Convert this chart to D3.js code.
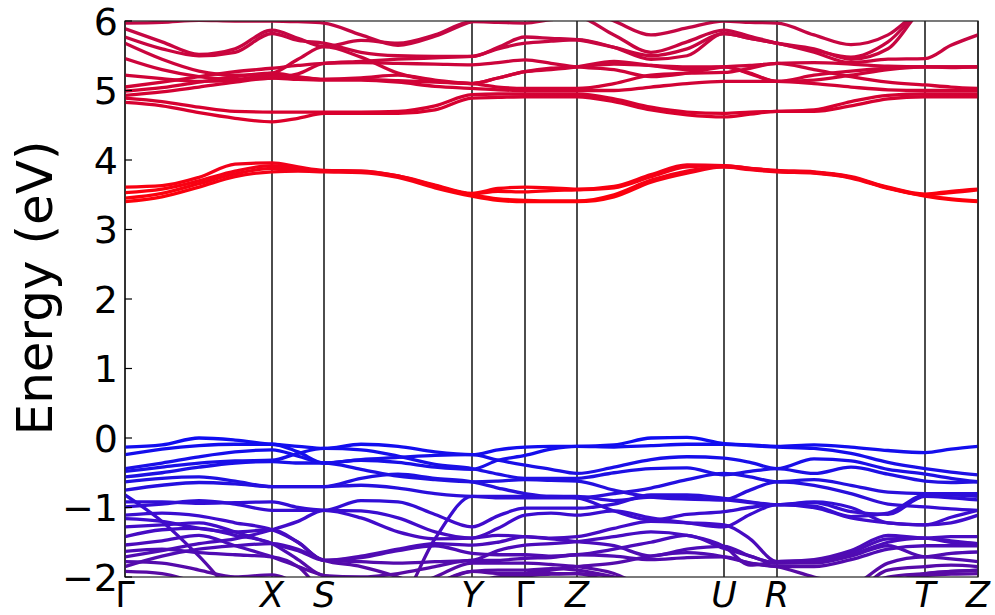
<!DOCTYPE html>
<html>
<head>
<meta charset="utf-8">
<script src="https://cdn.jsdelivr.net/npm/d3@7"></script>
<style>
  body { margin: 0; background: #fff; }
  text { font-family: "DejaVu Sans", sans-serif; fill: #000; }
</style>
</head>
<body>
<svg id="chart" width="995" height="615"></svg>
<script>
// k-path sample points (path length units) and high-symmetry points
const kPath = [0,37,74,110,147,173,199,236,273,310,347,373,400,426,452,489,526,562,599,625,652,689,726,763,800,826,853];
const symPos = [0,147,199,347,400,452,599,652,800,853];
const symLabels = ["Γ","X","S","Y","Γ","Z","U","R","T","Z"];
const yTicks = [-2,-1,0,1,2,3,4,5,6];

// valence bands (eV) at each kPath point
const valence = [
  [-0.13,-0.10,0.00,-0.03,-0.09,-0.12,-0.15,-0.09,-0.12,-0.20,-0.24,-0.17,-0.13,-0.12,-0.12,-0.10,0.00,0.01,-0.08,-0.10,-0.12,-0.10,-0.13,-0.18,-0.21,-0.16,-0.12],
  [-0.24,-0.16,-0.11,-0.09,-0.09,-0.20,-0.36,-0.31,-0.28,-0.25,-0.24,-0.32,-0.39,-0.45,-0.51,-0.42,-0.31,-0.27,-0.29,-0.35,-0.44,-0.30,-0.33,-0.45,-0.52,-0.58,-0.63],
  [-0.44,-0.36,-0.27,-0.20,-0.17,-0.26,-0.36,-0.32,-0.35,-0.42,-0.45,-0.32,-0.25,-0.16,-0.12,-0.13,-0.11,-0.09,-0.09,-0.11,-0.13,-0.15,-0.22,-0.35,-0.44,-0.49,-0.53],
  [-0.48,-0.42,-0.36,-0.33,-0.32,-0.22,-0.15,-0.17,-0.26,-0.38,-0.44,-0.52,-0.58,-0.58,-0.58,-0.50,-0.44,-0.43,-0.53,-0.48,-0.44,-0.51,-0.42,-0.52,-0.62,-0.64,-0.63],
  [-0.56,-0.50,-0.42,-0.36,-0.34,-0.36,-0.36,-0.45,-0.55,-0.60,-0.63,-0.62,-0.60,-0.61,-0.62,-0.75,-0.85,-0.88,-0.89,-0.93,-0.96,-0.93,-1.06,-1.10,-0.84,-0.86,-0.89],
  [-0.63,-0.58,-0.56,-0.62,-0.70,-0.70,-0.70,-0.58,-0.52,-0.58,-0.63,-0.72,-0.80,-0.84,-0.84,-0.90,-0.85,-0.86,-0.89,-0.75,-0.63,-0.68,-0.80,-0.95,-0.99,-1.02,-1.04],
  [-0.75,-0.68,-0.64,-0.66,-0.70,-0.70,-0.70,-0.68,-0.72,-0.80,-0.84,-0.84,-0.84,-0.84,-0.86,-1.05,-1.18,-1.10,-1.06,-1.00,-0.96,-0.98,-1.13,-1.08,-0.82,-0.82,-0.84],
  [-0.82,-1.20,-1.70,-2.25,-2.60,-2.60,-2.60,-2.60,-2.40,-1.45,-0.84,-0.86,-0.86,-0.86,-0.86,-0.80,-0.72,-0.60,-0.51,-0.56,-0.63,-0.60,-0.68,-0.78,-0.80,-0.80,-0.80],
  [-0.92,-0.92,-0.94,-0.93,-0.92,-1.00,-1.04,-0.90,-0.92,-1.10,-1.28,-1.12,-1.01,-1.01,-1.01,-0.95,-0.82,-0.82,-0.87,-0.92,-0.96,-0.92,-1.00,-1.22,-1.25,-1.22,-1.11],
  [-0.99,-0.95,-0.90,-0.95,-1.04,-1.04,-1.04,-1.15,-1.35,-1.45,-1.44,-1.30,-1.11,-1.08,-1.11,-1.05,-1.15,-1.22,-1.28,-1.10,-0.96,-1.00,-1.15,-1.22,-1.25,-1.14,-1.04],
  [-1.11,-1.08,-1.12,-1.22,-1.32,-1.50,-1.76,-1.70,-1.60,-1.52,-1.54,-1.50,-1.42,-1.44,-1.42,-1.30,-1.20,-1.22,-1.25,-1.45,-1.78,-1.75,-1.62,-1.40,-1.44,-1.42,-1.42],
  [-1.16,-1.20,-1.30,-1.35,-1.32,-1.50,-1.76,-1.78,-1.80,-1.78,-1.76,-1.62,-1.54,-1.52,-1.49,-1.42,-1.35,-1.40,-1.56,-1.83,-1.78,-1.76,-1.65,-1.45,-1.44,-1.48,-1.52],
  [-1.28,-1.25,-1.22,-1.35,-1.52,-1.62,-1.76,-1.72,-1.62,-1.55,-1.66,-1.68,-1.68,-1.70,-1.68,-1.60,-1.50,-1.40,-1.59,-1.70,-1.80,-1.80,-1.70,-1.55,-1.71,-1.66,-1.64],
  [-1.42,-1.32,-1.30,-1.40,-1.52,-1.75,-1.98,-2.00,-1.95,-1.85,-1.76,-1.76,-1.73,-1.72,-1.68,-1.70,-1.75,-1.72,-1.71,-1.80,-1.85,-2.00,-2.10,-1.80,-1.71,-1.74,-1.78],
  [-1.54,-1.48,-1.40,-1.55,-1.71,-1.85,-1.98,-2.05,-2.20,-2.00,-1.80,-1.80,-1.80,-1.82,-1.85,-1.95,-2.20,-2.40,-2.50,-2.50,-2.50,-2.50,-2.30,-1.90,-1.85,-1.83,-1.85],
  [-1.63,-1.60,-1.65,-1.68,-1.71,-1.85,-2.20,-2.30,-2.30,-2.10,-1.92,-1.90,-1.90,-1.88,-1.90,-2.00,-2.10,-2.30,-2.40,-2.40,-2.40,-2.40,-2.20,-2.00,-1.95,-1.92,-1.90],
  [-1.71,-1.62,-1.52,-1.45,-1.32,-1.20,-1.04,-1.05,-1.15,-1.35,-1.44,-1.40,-1.42,-1.45,-1.49,-1.55,-1.70,-1.60,-1.56,-1.70,-1.80,-1.78,-1.68,-1.50,-1.44,-1.50,-1.52],
  [-1.78,-1.80,-1.90,-2.00,-1.97,-2.10,-2.30,-2.30,-2.30,-2.10,-1.92,-1.95,-1.95,-1.95,-1.95,-2.10,-2.30,-2.30,-2.30,-2.30,-2.30,-2.30,-2.30,-2.10,-1.95,-1.92,-1.90],
  [-1.85,-1.70,-1.60,-1.55,-1.52,-1.60,-1.76,-1.85,-2.00,-2.20,-2.30,-2.20,-1.95,-1.90,-1.85,-1.80,-1.70,-1.65,-1.71,-1.80,-1.85,-1.85,-1.75,-1.60,-1.55,-1.55,-1.55],
  [-1.92,-1.95,-2.10,-2.30,-2.40,-2.40,-2.40,-2.40,-2.40,-2.30,-2.10,-2.00,-1.98,-1.96,-1.95,-2.00,-2.20,-2.40,-2.40,-2.40,-2.40,-2.40,-2.40,-2.10,-1.98,-1.96,-1.95]
];

// conduction bands (eV) at each kPath point
const conduction = [
  [3.40,3.47,3.61,3.76,3.83,3.84,3.83,3.82,3.75,3.60,3.48,3.42,3.40,3.40,3.40,3.47,3.68,3.81,3.90,3.86,3.83,3.81,3.74,3.59,3.48,3.43,3.40],
  [3.45,3.52,3.66,3.80,3.88,3.86,3.84,3.83,3.76,3.62,3.50,3.44,3.42,3.41,3.41,3.50,3.71,3.84,3.90,3.87,3.84,3.82,3.75,3.60,3.49,3.44,3.41],
  [3.53,3.58,3.70,3.84,3.92,3.88,3.84,3.84,3.77,3.63,3.51,3.55,3.54,3.56,3.57,3.60,3.76,3.90,3.92,3.88,3.84,3.82,3.75,3.60,3.50,3.53,3.57],
  [3.61,3.63,3.75,3.94,3.96,3.90,3.85,3.84,3.77,3.64,3.52,3.59,3.61,3.60,3.58,3.62,3.79,3.93,3.92,3.88,3.85,3.83,3.76,3.61,3.51,3.55,3.58],
  [4.83,4.78,4.68,4.60,4.55,4.60,4.67,4.67,4.67,4.72,4.89,4.90,4.91,4.91,4.91,4.84,4.72,4.65,4.62,4.66,4.70,4.70,4.78,4.88,4.91,4.91,4.91],
  [4.89,4.84,4.76,4.70,4.69,4.69,4.69,4.69,4.70,4.78,4.94,4.95,4.95,4.95,4.95,4.88,4.76,4.69,4.67,4.69,4.70,4.72,4.84,4.93,4.95,4.95,4.95],
  [4.93,4.98,5.05,5.12,5.18,5.16,5.15,5.15,5.12,5.06,5.03,5.01,5.00,5.00,5.00,5.00,5.05,5.10,5.13,5.13,5.13,5.10,5.05,5.01,5.00,5.00,5.00],
  [4.99,5.04,5.12,5.20,5.25,5.20,5.16,5.16,5.14,5.12,5.10,5.05,5.03,5.03,5.03,5.10,5.22,5.25,5.26,5.32,5.39,5.30,5.20,5.12,5.08,5.05,5.03],
  [5.05,5.12,5.20,5.27,5.32,5.36,5.39,5.40,5.39,5.38,5.37,5.40,5.44,5.39,5.34,5.30,5.20,5.25,5.34,5.36,5.39,5.40,5.38,5.35,5.34,5.34,5.34],
  [5.22,5.17,5.13,5.15,5.22,5.19,5.16,5.18,5.22,5.15,5.10,5.18,5.27,5.32,5.34,5.38,5.36,5.34,5.34,5.24,5.13,5.22,5.28,5.32,5.34,5.33,5.34],
  [5.46,5.30,5.20,5.16,5.18,5.24,5.39,5.42,5.45,5.47,5.49,5.60,5.68,5.71,5.73,5.62,5.45,5.50,5.82,5.75,5.68,5.55,5.40,5.45,5.46,5.65,5.80],
  [5.68,5.45,5.28,5.22,5.25,5.45,5.63,5.48,5.25,5.14,5.10,5.18,5.27,5.30,5.34,5.42,5.36,5.30,5.34,5.25,5.13,5.15,5.22,5.30,5.34,5.34,5.34],
  [5.77,5.60,5.50,5.55,5.82,5.72,5.68,5.55,5.50,5.49,5.49,5.62,5.77,5.75,5.73,5.62,5.50,5.60,5.82,5.75,5.68,5.60,5.45,5.60,6.20,6.30,6.30],
  [5.89,5.70,5.52,5.60,5.87,5.75,5.63,5.72,5.68,5.80,5.99,5.98,5.97,6.02,6.05,5.80,5.55,5.70,5.87,5.78,5.68,5.58,5.48,5.70,6.20,6.30,6.30],
  [5.97,5.98,6.01,6.00,6.00,5.99,5.97,5.80,5.65,5.78,5.99,6.05,6.10,6.15,6.20,6.00,5.80,5.90,6.00,5.98,5.97,5.80,5.66,5.80,6.20,6.30,6.30]
];

const svg = d3.select("#chart");
const [pl, pr, pt, pb] = [125, 978, 21, 577];

const x = d3.scaleLinear().domain([0, 853]).range([pl, pr]);
const y = d3.scaleLinear().domain([-2, 6]).range([pb, pt]);

// colour by energy, via vertical gradients
const defs = svg.append("defs");
function gradient(id, stops) {
  let e0 = stops[0][0], e1 = stops[stops.length - 1][0];
  let g = defs.append("linearGradient").attr("id", id)
    .attr("gradientUnits", "userSpaceOnUse")
    .attr("x1", 0).attr("x2", 0)
    .attr("y1", y(e0)).attr("y2", y(e1));
  for (let [e, c] of stops) {
    g.append("stop").attr("offset", (e - e0) / (e1 - e0)).attr("stop-color", c);
  }
}
gradient("gv", [[0.1, "#0c0cf4"], [-0.6, "#2010e2"], [-1.2, "#400ccc"], [-2.1, "#5e0a9c"]]);
gradient("gc", [[3.35, "#ff0008"], [4.0, "#f0001c"], [4.7, "#d8002e"], [6.1, "#c00848"]]);

defs.append("clipPath").attr("id", "clip")
  .append("rect")
  .attr("x", pl).attr("y", pt)
  .attr("width", pr - pl).attr("height", pb - pt);

// high-symmetry lines
svg.append("g").selectAll("line")
  .data(symPos)
  .join("line")
  .attr("x1", d => x(d)).attr("x2", d => x(d))
  .attr("y1", pt).attr("y2", pb)
  .attr("stroke", "#000").attr("stroke-width", 1.4);

let line = d3.line()
  .x((d, i) => x(kPath[i]))
  .y(d => y(d))
  .curve(d3.curveMonotoneX);

let bands = svg.append("g").attr("clip-path", "url(#clip)");
bands.selectAll("path.v")
  .data(valence)
  .join("path")
  .attr("class", "v")
  .attr("d", line)
  .attr("fill", "none")
  .attr("stroke", "url(#gv)")
  .attr("stroke-width", 3.3);
bands.selectAll("path.c")
  .data(conduction)
  .join("path")
  .attr("class", "c")
  .attr("d", line)
  .attr("fill", "none")
  .attr("stroke", "url(#gc)")
  .attr("stroke-width", 3.3);

// frame
svg.append("rect")
  .attr("x", pl).attr("y", pt)
  .attr("width", pr - pl).attr("height", pb - pt)
  .attr("fill", "none").attr("stroke", "#222").attr("stroke-width", 1.2);

// y axis ticks (inward) and labels
svg.append("g").selectAll("line")
  .data(yTicks)
  .join("line")
  .attr("x1", pl).attr("x2", pl + 7)
  .attr("y1", d => y(d)).attr("y2", d => y(d))
  .attr("stroke", "#000").attr("stroke-width", 1.2);
svg.append("g").selectAll("text")
  .data(yTicks)
  .join("text")
  .attr("x", pl - 7)
  .attr("y", d => y(d))
  .attr("dy", "0.36em")
  .attr("text-anchor", "end")
  .attr("font-size", 38)
  .text(d => (d < 0 ? "\u2212" + Math.abs(d) : d));

// k-point labels
svg.append("g").selectAll("text")
  .data(symPos)
  .join("text")
  .attr("x", d => x(d))
  .attr("y", 607)
  .attr("text-anchor", "middle")
  .attr("font-size", 35)
  .attr("font-style", (d, i) => (symLabels[i] === "Γ" ? "normal" : "italic"))
  .text((d, i) => symLabels[i]);

svg.append("text")
  .attr("transform", "translate(52,288) rotate(-90)")
  .attr("text-anchor", "middle")
  .attr("font-size", 50)
  .text("Energy (eV)");
</script>
</body>
</html>
